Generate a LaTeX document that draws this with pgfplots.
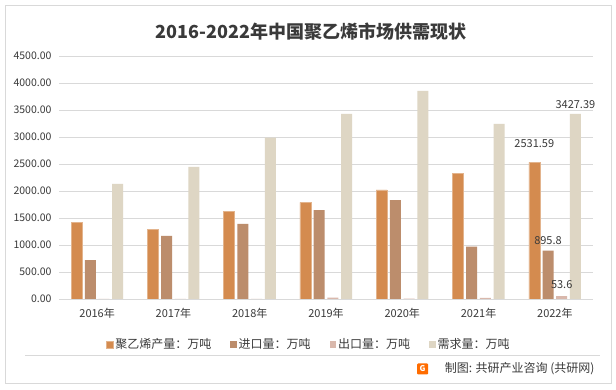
\documentclass[border=0pt]{standalone}
\usepackage{pgfplots}
\pgfplotsset{compat=1.18}
\usepackage{fontspec}
\setmainfont{Noto Sans CJK SC}
\definecolor{prodc}{HTML}{D48B4F}
\definecolor{impc}{HTML}{BC8D6C}
\definecolor{expc}{HTML}{D9B8AC}
\definecolor{demc}{HTML}{DED6C4}
\definecolor{txtc}{HTML}{3A3A3A}
\definecolor{gridc}{HTML}{D9D9D9}
\begin{document}
\begin{tikzpicture}[x=1pt,y=1pt]
\fill[white] (0,0) rectangle (616,390);
\draw[color=gridc,line width=0.8pt] (5,7) rectangle (611,385);
\node[font=\fontsize{18}{20}\selectfont\bfseries, text=txtc] at (311,358) {2016-2022年中国聚乙烯市场供需现状};
\begin{axis}[
  at={(59pt,91pt)}, anchor=south west,
  scale only axis, width=534pt, height=243pt,
  xmin=-0.5, xmax=6.5, ymin=0, ymax=4500,
  ybar=2.7pt, bar width=11pt,
  xtick={0,1,2,3,4,5,6},
  xticklabels={2016年,2017年,2018年,2019年,2020年,2021年,2022年},
  ytick={0,500,1000,1500,2000,2500,3000,3500,4000,4500},
  /pgf/number format/assume math mode=true,
  ticklabel style={font=\fontsize{10.5}{12}\selectfont, text=txtc},
  xticklabel style={font=\fontsize{11}{12}\selectfont, yshift=-6pt},
  yticklabel style={xshift=-4pt, /pgf/number format/fixed, /pgf/number format/fixed zerofill, /pgf/number format/precision=2, /pgf/number format/use period, /pgf/number format/1000 sep={}},
  major tick length=0pt,
  ymajorgrids, grid style={gridc, line width=0.8pt},
  axis x line*=bottom, axis y line*=left,
  x axis line style={draw=gridc, line width=0.8pt, -},
  y axis line style={draw=none},
  nodes near coords, point meta=explicit symbolic,
  nodes near coords style={font=\fontsize{11}{12}\selectfont, text=txtc, yshift=2pt},
  legend columns=4,
  legend style={at={(0.468,-0.188)}, anchor=center, draw=none, fill=none,
    font=\fontsize{12}{13}\selectfont, text=txtc,
    /tikz/every even column/.append style={column sep=17pt}},
  legend image code/.code={\fill[#1] (0pt,-3.2pt) rectangle (6.4pt,3.2pt);},
  legend cell align=left,
]
\addplot[fill=prodc, draw=prodc!65!white, line width=0.6pt] coordinates {(0,1420)[{}] (1,1291)[{}] (2,1624)[{}] (3,1791)[{}] (4,2019)[{}] (5,2328)[{}] (6,2531.59)[\raisebox{9pt}{2531.59}]};
\addlegendentry{聚乙烯产量：万吨}
\addplot[fill=impc, draw=none] coordinates {(0,722)[{}] (1,1167)[{}] (2,1389)[{}] (3,1648)[{}] (4,1833)[{}] (5,969)[{}] (6,895.8)[895.8]};
\addlegendentry{进口量：万吨}
\addplot[fill=expc, draw=none] coordinates {(0,3)[{}] (1,3)[{}] (2,4)[{}] (3,25)[{}] (4,6)[{}] (5,20)[{}] (6,53.6)[\raisebox{2pt}{53.6}]};
\addlegendentry{出口量：万吨}
\addplot[fill=demc, draw=none] coordinates {(0,2130)[{}] (1,2445)[{}] (2,2990)[{}] (3,3427)[{}] (4,3852)[{}] (5,3241)[{}] (6,3427.39)[3427.39]};
\addlegendentry{需求量：万吨}
\end{axis}
\draw[color=gridc, line width=0.8pt] (25,35) -- (600,35);
\fill[orange!85!red, rounded corners=1pt] (417,15.5) rectangle (428,26.5);
\node[font=\fontsize{8}{8}\selectfont\bfseries, text=white, inner sep=0pt] at (422.5,21) {G};
\node[font=\fontsize{12}{13}\selectfont, text=txtc, anchor=east] at (598,21) {制图: 共研产业咨询 (共研网)};
\end{tikzpicture}
\end{document}
